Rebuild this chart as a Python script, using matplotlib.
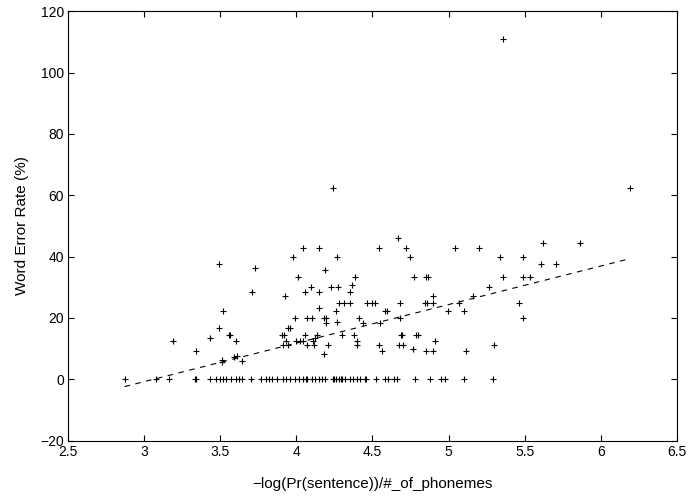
import matplotlib
matplotlib.use("Agg")
import matplotlib.pyplot as plt

plt.rcParams['font.family'] = ['Liberation Sans', 'DejaVu Sans']

# sentences with zero word error rate
zero_x = [2.87, 3.08, 3.16, 3.33, 3.34, 3.43, 3.47, 3.50, 3.52, 3.54, 3.57, 3.60,
          3.62, 3.64, 3.70, 3.77, 3.80, 3.82, 3.84, 3.87, 3.91, 3.93, 3.96, 3.99,
          4.02, 4.04, 4.06, 4.07, 4.10, 4.12, 4.15, 4.17, 4.19, 4.24, 4.25, 4.26,
          4.28, 4.29, 4.30, 4.32, 4.35, 4.37, 4.40, 4.42, 4.45, 4.46, 4.52, 4.58,
          4.60, 4.64, 4.66, 4.78, 4.88, 4.95, 4.98, 5.10, 5.29]
zero_y = [0.0] * len(zero_x)

# sentences with non-zero word error rate
nz_x = [3.19, 3.34, 3.43, 3.49, 3.49, 3.515, 3.555, 3.565, 3.60, 3.51, 3.51, 3.59,
        3.61, 3.64, 3.71, 3.73, 3.905, 3.915, 3.93, 3.91, 3.946, 3.927, 3.942, 3.957,
        3.98, 3.988, 4.00, 4.012, 4.023, 4.045, 4.045, 4.054, 4.058, 4.067, 4.067,
        4.096, 4.104, 4.11, 4.115, 4.12, 4.133, 4.15, 4.15, 4.15, 4.179, 4.181,
        4.186, 4.192, 4.194, 4.205, 4.225, 4.24, 4.258, 4.267, 4.267, 4.275, 4.28,
        4.297, 4.31, 4.35, 4.355, 4.365, 4.378, 4.383, 4.40, 4.40, 4.41, 4.436,
        4.465, 4.50, 4.517, 4.545, 4.545, 4.549, 4.564, 4.582, 4.593, 4.666, 4.676,
        4.681, 4.681, 4.688, 4.692, 4.699, 4.72, 4.747, 4.764, 4.773, 4.786, 4.801,
        4.845, 4.852, 4.852, 4.858, 4.867, 4.896, 4.90, 4.90, 4.911, 4.997, 5.044,
        5.067, 5.104, 5.115, 5.163, 5.202, 5.263, 5.299, 5.34, 5.36, 5.36, 5.465,
        5.488, 5.488, 5.488, 5.535, 5.608, 5.619, 5.706, 5.864, 6.19]
nz_y = [12.5, 9.1, 13.3, 16.7, 37.5, 22.2, 14.3, 14.3, 12.5, 6.25, 5.6, 7.1,
        7.7, 5.9, 28.6, 36.4, 14.3, 14.3, 12.5, 11.1, 11.1, 27.3, 16.7, 16.7,
        40.0, 20.0, 12.5, 33.3, 12.5, 12.5, 42.9, 14.3, 28.6, 20.0, 11.1,
        30.0, 20.0, 12.5, 11.1, 13.3, 14.3, 42.9, 28.6, 23.1, 8.3, 20.0,
        35.7, 18.2, 20.0, 11.1, 30.0, 62.5, 22.2, 18.8, 40.0, 30.0, 25.0,
        14.3, 25.0, 28.6, 25.0, 30.8, 14.3, 33.3, 12.5, 11.1, 20.0, 18.2,
        25.0, 25.0, 25.0, 42.9, 11.1, 18.2, 9.1, 22.2, 22.2, 46.2, 11.1,
        25.0, 20.0, 14.3, 14.3, 11.1, 42.9, 40.0, 10.0, 33.3, 14.3, 14.3,
        25.0, 33.3, 9.1, 25.0, 33.3, 27.3, 25.0, 9.1, 12.5, 22.2, 42.9,
        25.0, 22.2, 9.1, 27.3, 42.9, 30.0, 11.1, 40.0, 33.3, 111.1, 25.0,
        40.0, 33.3, 20.0, 33.3, 37.5, 44.4, 37.5, 44.4, 62.5]

# least-squares trend line endpoints
trend_x = [2.87, 6.19]
trend_y = [-2.4, 39.3]

xticks = [2.5, 3, 3.5, 4, 4.5, 5, 5.5, 6, 6.5]
yticks = [-20, 0, 20, 40, 60, 80, 100, 120]

fig = plt.figure(figsize=(6.91, 4.98), dpi=100)
ax = fig.add_axes([0.0988, 0.1153, 0.8805, 0.862])

ax.plot(zero_x + nz_x, zero_y + nz_y, linestyle='none', marker='+',
        color='black', markersize=5, markeredgewidth=0.8)
ax.plot(trend_x, trend_y, color='black', linewidth=0.8, dashes=(5, 5))

ax.set_xlim(2.5, 6.5)
ax.set_ylim(-20, 120)
ax.set_xticks(xticks)
ax.set_xticklabels(['2.5', '3', '3.5', '4', '4.5', '5', '5.5', '6', '6.5'])
ax.set_yticks(yticks)
ax.set_yticklabels(['\u221220', '0', '20', '40', '60', '80', '100', '120'])
ax.tick_params(direction='in', top=True, right=True, length=4, width=0.8,
               labelsize=10, pad=3)
for s in ax.spines.values():
    s.set_linewidth(0.8)

ax.set_xlabel('\u2212log(Pr(sentence))/#_of_phonemes', fontsize=11, labelpad=13)
ax.set_ylabel('Word Error Rate (%)', fontsize=11, labelpad=8)

fig.savefig('out.png', dpi=100)
